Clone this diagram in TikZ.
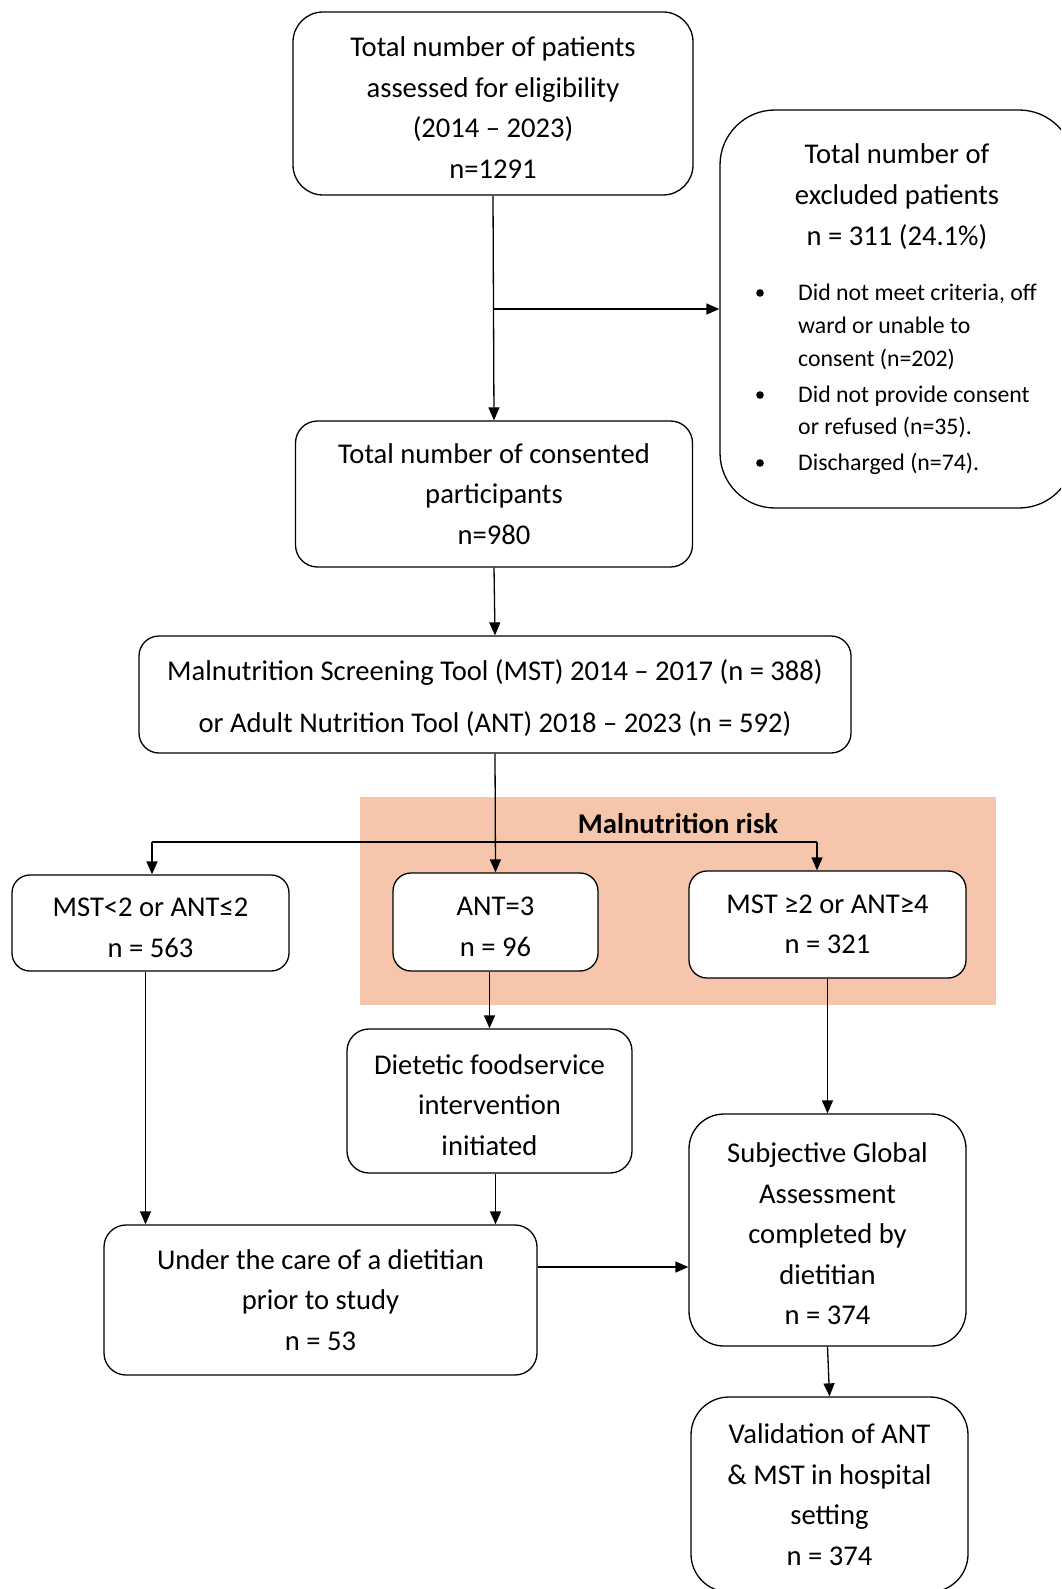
\documentclass[tikz,border=0pt]{standalone}
\usepackage{fontspec}
\setmainfont{Carlito}
\usetikzlibrary{arrows.meta}
\definecolor{riskbg}{RGB}{245,198,171}
\newcommand\tup{\rule{0pt}{28pt}}
\tikzset{
  box/.style={draw, line width=1.3pt, rounded corners=#1, align=center, inner sep=0pt,
    font=\fontsize{28.6}{40.5}\selectfont},
  box/.default=22pt,
  arr/.style={line width=1.3pt, -{Triangle[length=13pt,width=11pt]}},
  ln/.style={line width=1.3pt},
  bul/.style={anchor=base west, inner sep=0pt, font=\fontsize{23.8}{34}\selectfont},
  ttl/.style={align=center, inner sep=0pt, font=\fontsize{28.6}{41}\selectfont},
}
\begin{document}
\begin{tikzpicture}[x=1pt,y=-1pt]
\clip (0,0) rectangle (1061,1589);
\fill[white] (0,0) rectangle (1061,1589);
\node[fill=riskbg, minimum width=636pt, minimum height=208pt, inner sep=0pt] (riskbox) at (678,901) {};
\node[font=\bfseries\fontsize{28.6}{32}\selectfont, inner sep=0pt] (risk) at (678,824) {Malnutrition risk};

\node[box=30pt, minimum width=400pt, minimum height=183pt] (b1) at (493,103.5)
  {\tup Total number of patients\\assessed for eligibility\\(2014 – 2023)\\n=1291};
\node[box=55pt, minimum width=354pt, minimum height=398pt] (exc) at (897,309) {};
\node[ttl] (exct) at (897,197) {Total number of\\excluded patients\\n = 311 (24.1\%)};
\fill (760,293) circle (3.8pt);
\fill (760,395) circle (3.8pt);
\fill (760,463) circle (3.8pt);
\node[bul] (e1) at (798,300) {Did not meet criteria, off};
\node[bul] (e2) at (798,333) {ward or unable to};
\node[bul] (e3) at (798,366) {consent (n=202)};
\node[bul] (e4) at (798,402) {Did not provide consent};
\node[bul] (e5) at (798,434) {or refused (n=35).};
\node[bul] (e6) at (798,470) {Discharged (n=74).};

\node[box=22pt, minimum width=397pt, minimum height=146pt] (b2) at (494,494)
  {Total number of consented\\participants\\n=980};
\node[box=20pt, minimum width=712pt, minimum height=117pt, font=\fontsize{28.6}{52}\selectfont] (b3) at (495,694.5)
  {\tup Malnutrition Screening Tool (MST) 2014 – 2017 (n = 388)\\or Adult Nutrition Tool (ANT) 2018 – 2023 (n = 592)};
\node[box=18pt, minimum width=277pt, minimum height=96pt, fill=white] (low) at (150.5,923)
  {\tup MST<2 or ANT≤2\\n = 563};
\node[box=18pt, minimum width=205pt, minimum height=98pt, fill=white] (ant) at (495.5,922)
  {\tup ANT=3\\n = 96};
\node[box=18pt, minimum width=277pt, minimum height=107pt, fill=white] (high) at (827.5,924.5)
  {MST ≥2 or ANT≥4\\n = 321};
\node[box=22pt, minimum width=285pt, minimum height=144pt] (diet) at (489.5,1101)
  {\tup Dietetic foodservice\\intervention\\initiated};
\node[box=35pt, minimum width=277pt, minimum height=232pt] (sga) at (827.5,1230)
  {\tup Subjective Global\\Assessment\\completed by\\dietitian\\n = 374};
\node[box=22pt, minimum width=433pt, minimum height=150pt] (care) at (320.5,1300)
  {Under the care of a dietitian\\prior to study\\n = 53};
\node[box=38pt, minimum width=277pt, minimum height=195pt] (val) at (829.5,1494.5)
  {Validation of ANT\\\& MST in hospital\\setting\\n = 374};

\draw[arr] (b1.south) -- (b2.north);
\draw[arr] (b1.south |- exc.west) -- (exc.west);
\draw[arr] (b2.south) -- (b3.north);
\draw[arr] (b3.south) -- (ant.north);
\coordinate (brL) at (152,842);
\coordinate (brR) at (817,842);
\draw[ln] (brL) -- (brR);
\draw[arr] (brL) -- (brL |- low.north);
\draw[arr] (brR) -- (brR |- high.north);
\draw[arr] (ant.south -| diet.north) -- (diet.north);
\draw[arr] (high.south) -- (sga.north);
\draw[arr] ([xshift=-5pt]low.south) -- ([xshift=-5pt]low.south |- care.north);
\draw[arr] ([xshift=6pt]diet.south) -- ([xshift=6pt]diet.south |- care.north);
\draw[arr] ([yshift=33pt]care.east) -- ([yshift=33pt]care.east -| sga.west);
\draw[arr] (sga.south) -- (val.north);
\end{tikzpicture}
\end{document}
